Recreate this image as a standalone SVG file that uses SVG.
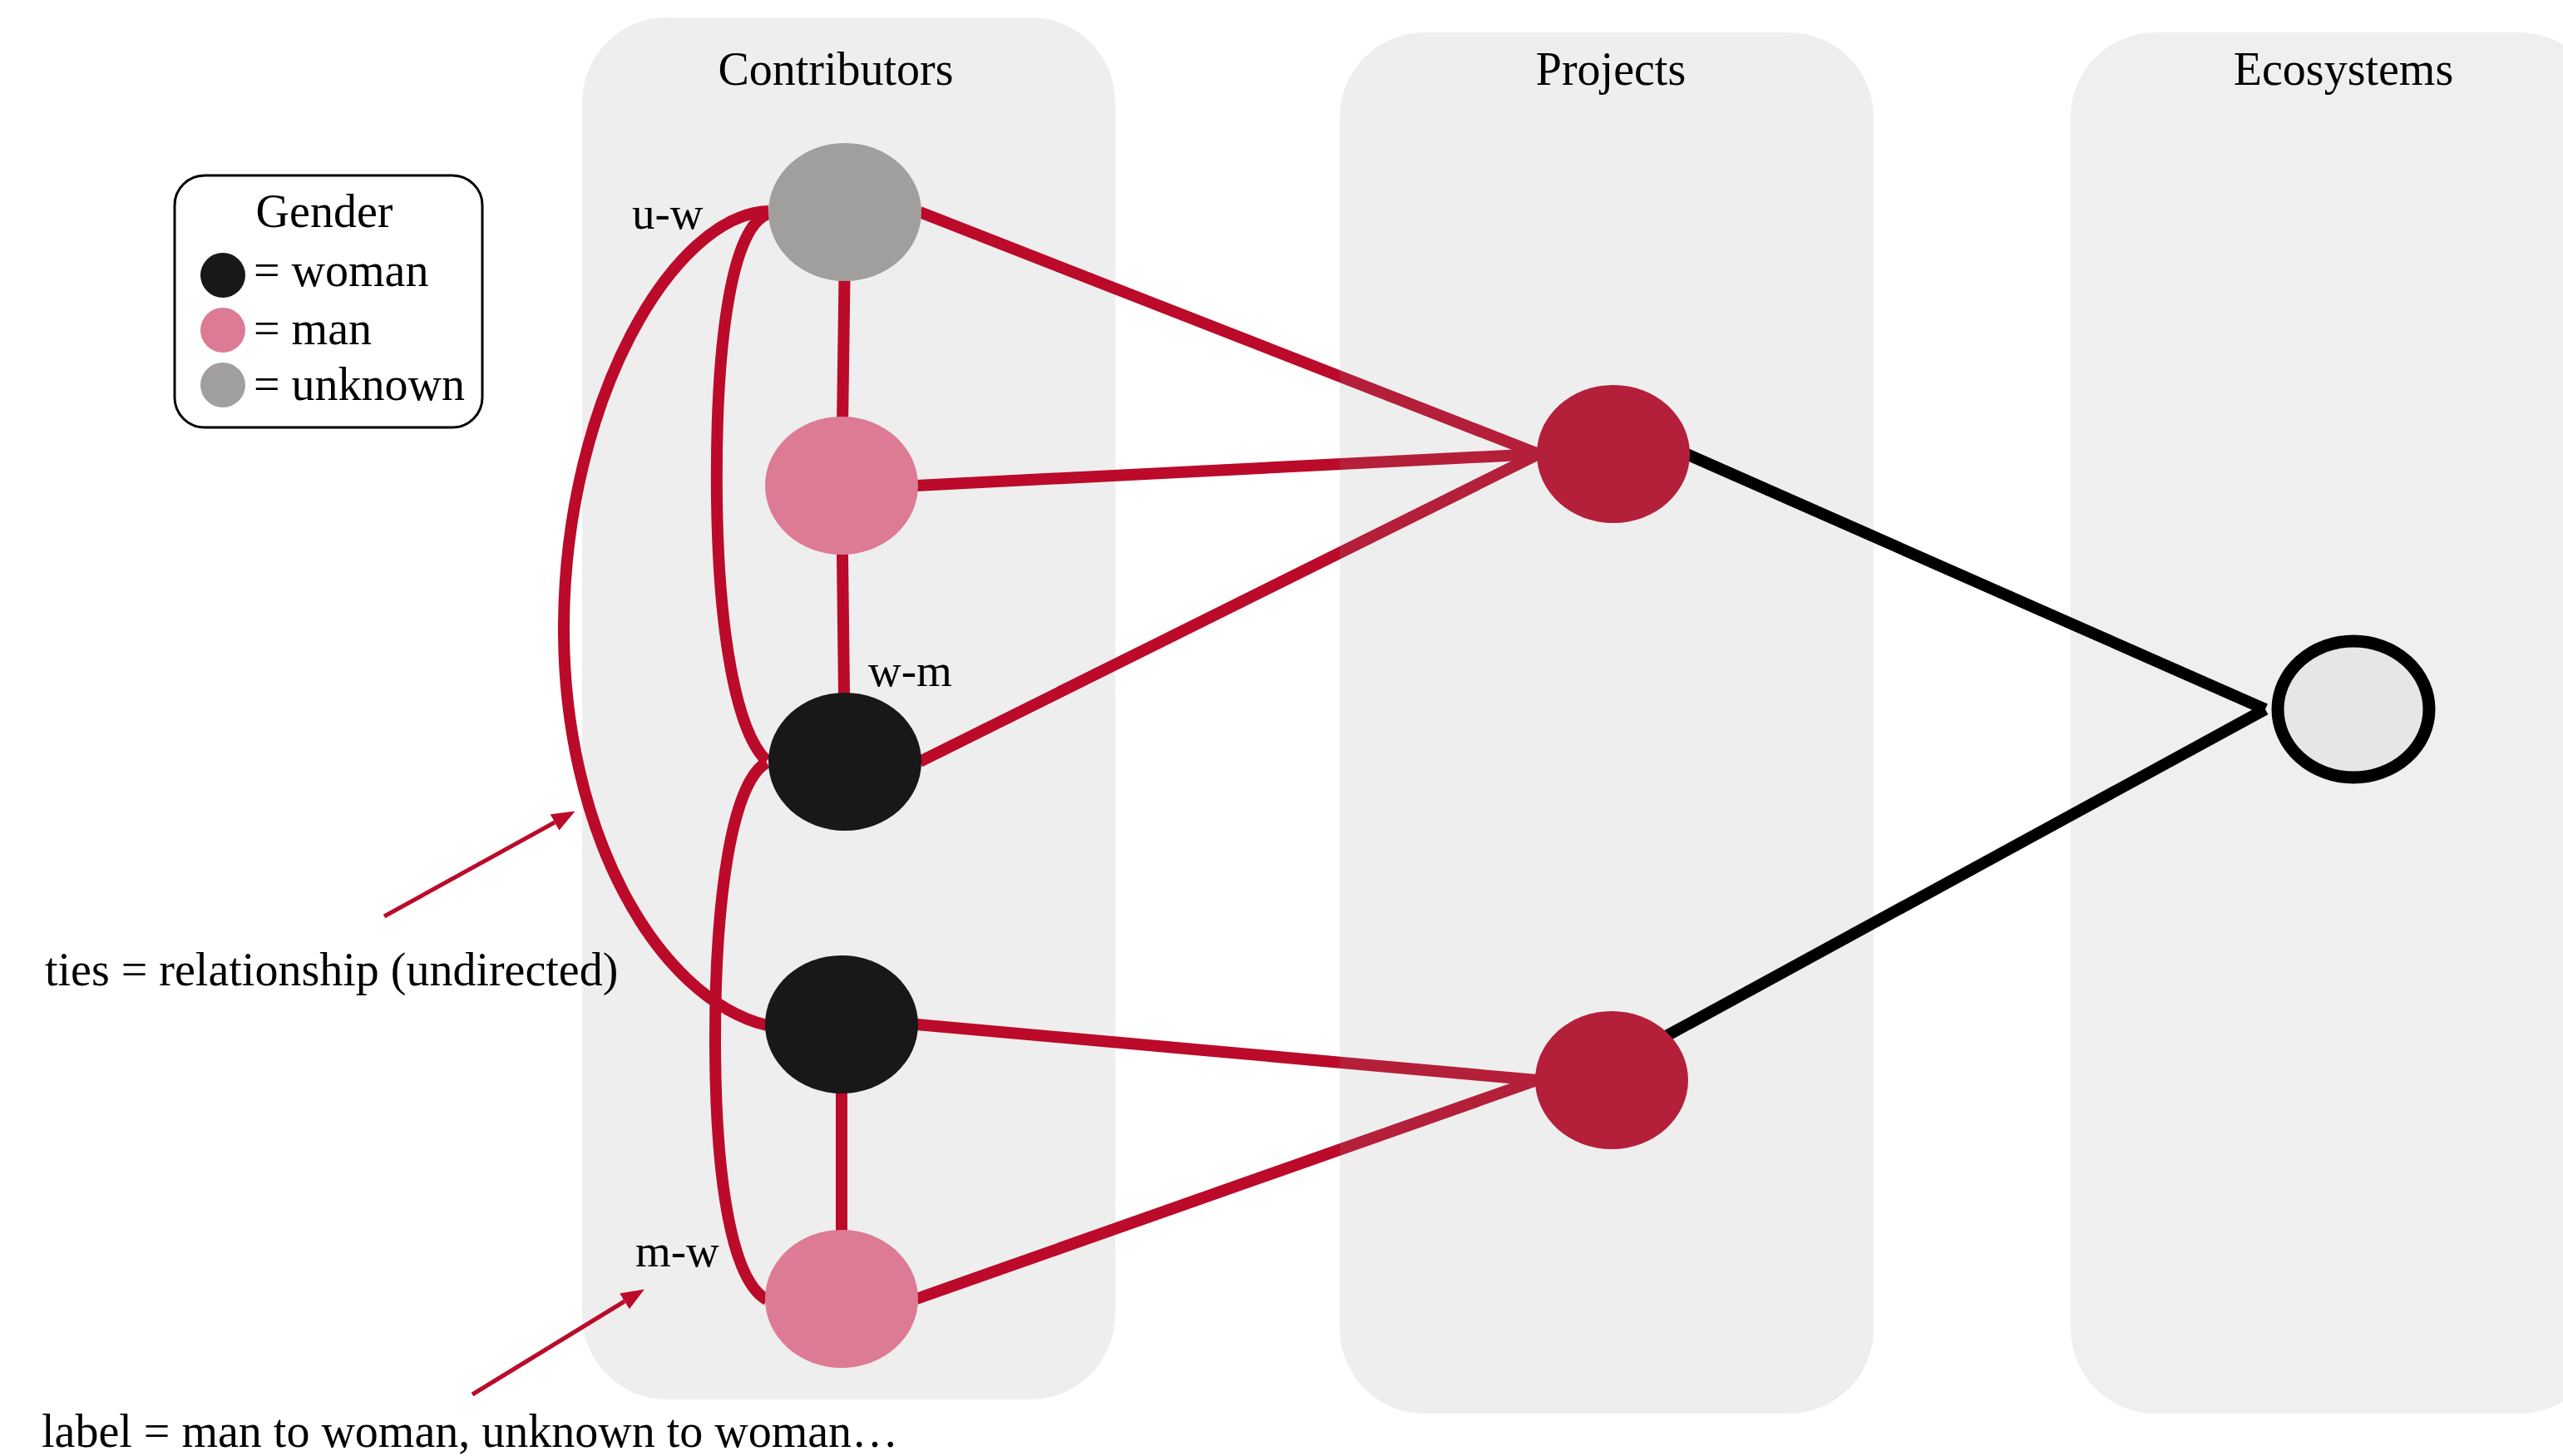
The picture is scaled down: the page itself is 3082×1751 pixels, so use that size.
<svg xmlns="http://www.w3.org/2000/svg" width="3082" height="1751" viewBox="0 0 3082 1751">
<style>
  text { font-family: "Liberation Serif", "Times New Roman", serif; font-size: 56px; fill: #000; }
  .panel { fill: #eeeeee; }
  .tie { fill: none; stroke: #bb0a2a; stroke-width: 14; }
  .proj { fill: none; stroke: url(#redGrad); stroke-width: 14; }
  .eco { fill: none; stroke: #000; stroke-width: 14; }
  .ann { fill: none; stroke: #bb0a2a; stroke-width: 5; marker-end: url(#head); }
  .woman { fill: #181818; }
  .man { fill: #dc7b93; }
  .unknown { fill: #a09f9d; }
  .project { fill: #b41f3a; }
</style>
<defs>
  <linearGradient id="redGrad" gradientUnits="userSpaceOnUse" x1="0" y1="0" x2="3082" y2="0">
    <stop offset="0" stop-color="#bb0a2a"/>
    <stop offset="0.5227" stop-color="#bb0a2a"/>
    <stop offset="0.5227" stop-color="#b41f3a"/>
    <stop offset="1" stop-color="#b41f3a"/>
  </linearGradient>
  <marker id="head" markerUnits="userSpaceOnUse" markerWidth="28" markerHeight="22" viewBox="0 0 28 22" refX="0" refY="11" orient="auto">
    <path d="M0,0 L28,11 L0,22 z" fill="#bb0a2a"/>
  </marker>
</defs>

<g id="panels">
  <rect id="panel-contributors" class="panel" x="700" y="21" width="641" height="1662" rx="102" ry="102"/>
  <rect id="panel-projects" class="panel" x="1611" y="39" width="642" height="1661" rx="102" ry="102"/>
  <rect id="panel-ecosystems" class="panel" x="2490" y="39" width="641" height="1661" rx="102" ry="102" style="fill:#efefef"/>
  <text x="1005" y="102" text-anchor="middle">Contributors</text>
  <text x="1937" y="102" text-anchor="middle">Projects</text>
  <text x="2818" y="102" text-anchor="middle">Ecosystems</text>
</g>

<g id="legend">
  <rect x="210" y="211" width="370" height="303" rx="36" ry="36" fill="#fff" stroke="#000" stroke-width="3"/>
  <text x="390" y="273" text-anchor="middle">Gender</text>
  <circle class="woman" cx="268" cy="331" r="27"/>
  <text x="305" y="344">= woman</text>
  <circle class="man" cx="268" cy="397" r="27"/>
  <text x="305" y="414">= man</text>
  <circle class="unknown" cx="268" cy="463" r="27"/>
  <text x="305" y="481">= unknown</text>
</g>

<g id="connectors">
  <!-- ties between contributors -->
  <line class="tie" x1="1016" y1="300" x2="1012" y2="584"/>
  <line class="tie" x1="1012" y1="584" x2="1016" y2="916"/>
  <line class="tie" x1="1012" y1="1232" x2="1012" y2="1562"/>
  <path class="tie" d="M924,254 C810,258 680,480 678,750 C676,1000 790,1200 922,1233"/>
  <path class="tie" d="M924,257 C878,272 860,420 862,600 C864,760 885,880 922,915"/>
  <path class="tie" d="M922,917 C880,940 860,1080 860,1250 C860,1420 880,1540 922,1563"/>
  <!-- contributors to projects -->
  <line class="proj" x1="1106" y1="255" x2="1850" y2="546"/>
  <line class="proj" x1="1102" y1="584" x2="1850" y2="546"/>
  <line class="proj" x1="1106" y1="916" x2="1850" y2="546"/>
  <line class="proj" x1="1102" y1="1232" x2="1848" y2="1299"/>
  <line class="proj" x1="1102" y1="1562" x2="1848" y2="1299"/>
  <!-- projects to ecosystem -->
  <line class="eco" x1="2028" y1="546" x2="2724" y2="853"/>
  <line class="eco" x1="1998" y1="1249" x2="2724" y2="853"/>
  <!-- annotation arrows -->
  <line class="ann" x1="462" y1="1102" x2="667" y2="989"/>
  <line class="ann" x1="568" y1="1677" x2="751" y2="1565"/>
</g>

<g id="node-c1"><ellipse class="unknown" cx="1016" cy="255" rx="92" ry="83"/></g>
<g id="node-c2"><ellipse class="man" cx="1012" cy="584" rx="92" ry="83"/></g>
<g id="node-c3"><ellipse class="woman" cx="1016" cy="916" rx="92" ry="83"/></g>
<g id="node-c4"><ellipse class="woman" cx="1012" cy="1232" rx="92" ry="83"/></g>
<g id="node-c5"><ellipse class="man" cx="1012" cy="1562" rx="92" ry="83"/></g>
<g id="node-p1"><ellipse class="project" cx="1940" cy="546" rx="92" ry="83"/></g>
<g id="node-p2"><ellipse class="project" cx="1938" cy="1299" rx="92" ry="83"/></g>
<g id="node-e1"><ellipse cx="2830" cy="853" rx="91" ry="82" fill="#e6e6e6" stroke="#000" stroke-width="15"/></g>

<g id="labels">
  <text x="760" y="275" style="font-size:55px">u-w</text>
  <text x="1044" y="825" style="font-size:55px">w-m</text>
  <text x="764" y="1523" style="font-size:55px">m-w</text>
  <text x="54" y="1185">ties = relationship (undirected)</text>
  <text x="50" y="1740">label = man to woman, unknown to woman…</text>
</g>
</svg>
